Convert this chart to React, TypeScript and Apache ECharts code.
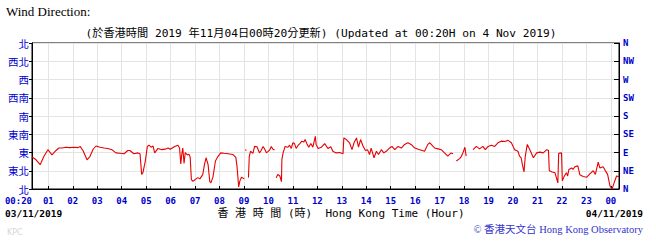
import React, { useEffect, useRef } from 'react';
import * as echarts from 'echarts';

// Y axis direction labels (0..360 in 45° steps, bottom to top)
const dirLabelsZh = ['北', '東北', '東', '東南', '南', '西南', '西', '西北', '北'];
const dirLabelsEn = ['N', 'NE', 'E', 'SE', 'S', 'SW', 'W', 'NW', 'N'];

// X axis: minutes since 00:00 on 03/11/2019
const hourTickMinutes = [60, 120, 180, 240, 300, 360, 420, 480, 540, 600, 660, 720, 780, 840, 900, 960, 1020, 1080, 1140, 1200, 1260, 1320, 1380, 1440];
const hourTickLabels = ['01', '02', '03', '04', '05', '06', '07', '08', '09', '10', '11', '12', '13', '14', '15', '16', '17', '18', '19', '20', '21', '22', '23', '00'];

// Wind direction readings (time in minutes, direction in degrees; null = gap)
const timeMin = [
  20, 30, 40, 49, 59, 69, 79, 86, 94, 103, 113, 123, 133, 138, 145, 155, 162, 170, 177, 187,
  197, 206, 216, 226, 236, 246, 255, 260, 270, 280, 285, 289, 292, 298, 303, 307, 312, 317, 321, 329,
  339, 349, 354, 359, 370, 378, 382, 385, 388, 390, 393, 396, 401, 405, 408, 411, 415, 420, 427, 432,
  439, 443, 447, 452, 456, 459, 464, 470, 476, 483, 491, 501, 513, 520, 523, 527, 530, 534, 541, 542,
  543, 546, 548, 551, 553, 556, 562, 566, 572, 578, 582, 587, 592, 595, 603, 607, 611, 615, 617, 619,
  623, 628, 632, 633, 636, 641, 648, 652, 656, 660, 664, 668, 673, 677, 682, 687, 690, 695, 699, 704,
  709, 715, 717, 722, 730, 738, 746, 753, 758, 766, 775, 783, 785, 791, 799, 805, 810, 816, 821, 826,
  832, 838, 843, 848, 852, 859, 865, 870, 877, 883, 889, 897, 903, 910, 918, 926, 934, 942, 950, 959,
  971, 983, 991, 996, 1004, 1008, 1016, 1024, 1032, 1040, 1048, 1053, 1055, 1061, 1069, 1073, 1077, 1082, 1085, 1088,
  1102, 1110, 1118, 1126, 1132, 1139, 1147, 1155, 1163, 1171, 1180, 1188, 1196, 1204, 1212, 1216, 1220, 1223, 1227, 1230,
  1235, 1242, 1250, 1258, 1266, 1274, 1283, 1287, 1289, 1296, 1303, 1310, 1312, 1319, 1321, 1325, 1331, 1334, 1337, 1344,
  1347, 1352, 1359, 1364, 1372, 1381, 1389, 1397, 1402, 1409, 1413, 1421, 1426, 1432, 1438, 1443, 1448, 1454, 1460,
];
const directionDeg = [
  79, 72, 60, 80, 97, 84, 95, 101, 101, 103, 102, 103, 102, 105, 95, 72, 80, 98, 106, 103,
  101, 100, 97, 89, 88, 87, 95, 95, 87, 89, 87, 36, 40, 69, 105, 108, 103, 106, 89, 100,
  97, 99, 101, 98, 105, 108, 101, 62, 90, 101, 63, 90, 84, 86, 79, 23, 19, 23, 28, 25,
  36, 60, 77, 60, 19, 15, 30, 69, 80, 89, 88, 87, 85, 78, 55, 5, 20, 29, 25, null,
  97, 95, null, 28, 80, 93, 88, 105, 104, 89, 95, 105, 96, 89, 96, 105, 98, 96, null, 28,
  36, 32, 18, 73, 89, 105, 103, 108, 100, 114, 112, 100, 108, 112, 118, 116, 122, 110, 103, 112,
  103, 130, 110, 100, 103, 112, 100, 104, 93, 89, 90, 87, 126, 122, 114, 97, 114, 126, 103, 122,
  106, 95, 97, 85, 101, 77, 93, 85, 97, 89, 93, 101, 105, 97, 105, 101, 110, 114, 110, 101,
  97, 93, 110, 114, 105, 101, 99, 97, 89, 81, 89, 87, null, 69, 75, 80, 89, 103, 81, null,
  97, 105, 99, 105, 97, 105, 108, 105, 114, 118, 117, 120, 114, 97, 93, 81, 77, 60, 42, 80,
  110, 95, 77, 89, 91, 89, 97, 95, 45, 42, 40, 15, 88, 89, 20, 30, 40, 32, 48, 52,
  48, 55, 57, 35, 31, 29, 38, 45, 36, 66, 52, 55, 46, 36, 7, 0, 15, 32, 30,
];

const MONO = '"DejaVu Sans Mono", "Noto Sans CJK TC", monospace';
const BLUE = '#0000cc';

export default function App() {
  const ref = useRef<HTMLDivElement>(null);

  useEffect(() => {
    document.body.style.margin = '0';
    if (!ref.current) return;
    const chart = echarts.init(ref.current, null, { renderer: 'svg' });

    const data = timeMin.map((t, i) => [t, directionDeg[i] === null ? '-' : directionDeg[i]]);

    chart.setOption({
      animation: false,
      backgroundColor: '#fff',
      grid: {
        left: 32,
        right: 37,
        top: 43,
        bottom: 55,
        show: true,
        borderColor: '#000',
        borderWidth: 1,
      },
      xAxis: {
        type: 'value',
        min: 20,
        max: 1460,
        axisLine: { show: true, lineStyle: { color: '#000', width: 1 } },
        axisTick: {
          show: true,
          inside: true,
          length: 3,
          customValues: hourTickMinutes,
          lineStyle: { color: '#000' },
        },
        axisLabel: {
          customValues: [20, ...hourTickMinutes],
          alignMinLabel: 'right',
          formatter: (v: number) => (v === 20 ? '00:20' : hourTickLabels[hourTickMinutes.indexOf(v)]),
          color: BLUE,
          fontFamily: MONO,
          fontWeight: 'bold',
          fontSize: 9,
          lineHeight: 9,
          margin: 7,
        },
        splitLine: { show: true, lineStyle: { color: '#e4e4e4', width: 1 } },
      },
      yAxis: [
        {
          type: 'value',
          min: 0,
          max: 360,
          interval: 45,
          position: 'left',
          axisLine: { show: true, lineStyle: { color: '#000' } },
          axisTick: { show: true, inside: false, length: 3, lineStyle: { color: '#000' } },
          axisLabel: {
            formatter: (v: number) => dirLabelsZh[Math.round(v / 45)],
            color: BLUE,
            fontFamily: '"Noto Sans CJK TC", sans-serif',
            fontSize: 10.5,
            lineHeight: 10,
            margin: 3,
          },
          splitLine: { show: true, lineStyle: { color: '#e4e4e4', width: 1 } },
        },
        {
          type: 'value',
          min: 0,
          max: 360,
          interval: 45,
          position: 'right',
          axisLine: { show: true, lineStyle: { color: '#000' } },
          axisTick: { show: true, inside: true, length: 5, lineStyle: { color: '#000' } },
          axisLabel: {
            formatter: (v: number) => dirLabelsEn[Math.round(v / 45)],
            color: BLUE,
            fontFamily: MONO,
            fontWeight: 'bold',
            fontSize: 9,
            margin: 4,
          },
          splitLine: { show: false },
        },
      ],
      series: [
        {
          type: 'line',
          yAxisIndex: 0,
          data,
          showSymbol: false,
          connectNulls: false,
          lineStyle: { color: '#e60000', width: 1.1 },
          itemStyle: { color: '#e60000' },
        },
      ],
      graphic: [
        {
          type: 'text',
          x: 6,
          y: 11,
          style: {
            text: 'Wind Direction:',
            fill: '#000',
            font: '13px "Liberation Serif", serif',
            textVerticalAlign: 'middle',
          },
        },
        {
          type: 'text',
          x: 321,
          y: 33,
          style: {
            text: '(於香港時間 2019 年11月04日00時20分更新) (Updated at 00:20H on 4 Nov 2019)',
            fill: '#000',
            font: '11.2px ' + MONO,
            textAlign: 'center',
            textVerticalAlign: 'middle',
          },
        },
        {
          type: 'text',
          x: 5,
          y: 213,
          style: {
            text: '03/11/2019',
            fill: '#000',
            font: 'bold 9.5px ' + MONO,
            textVerticalAlign: 'middle',
          },
        },
        {
          type: 'text',
          x: 643,
          y: 213,
          style: {
            text: '04/11/2019',
            fill: '#000',
            font: 'bold 9.5px ' + MONO,
            textAlign: 'right',
            textVerticalAlign: 'middle',
          },
        },
        {
          type: 'text',
          x: 341,
          y: 213,
          style: {
            text: '香 港 時 間 (時)  Hong Kong Time (Hour)',
            fill: '#000',
            font: '11px ' + MONO,
            textAlign: 'center',
            textVerticalAlign: 'middle',
          },
        },
        {
          type: 'text',
          x: 7,
          y: 232,
          style: {
            text: 'KPC',
            fill: '#d6d6d6',
            font: '8px "DejaVu Sans", sans-serif',
            textVerticalAlign: 'middle',
          },
        },
        {
          type: 'text',
          x: 643,
          y: 229.5,
          style: {
            text: '© 香港天文台 Hong Kong Observatory',
            fill: '#3333cc',
            font: '10.5px "Liberation Serif", "Noto Sans CJK TC", serif',
            textAlign: 'right',
            textVerticalAlign: 'middle',
          },
        },
      ],
    });

    return () => {
      chart.dispose();
    };
  }, []);

  return <div ref={ref} style={{ width: 656, height: 244 }} />;
}
